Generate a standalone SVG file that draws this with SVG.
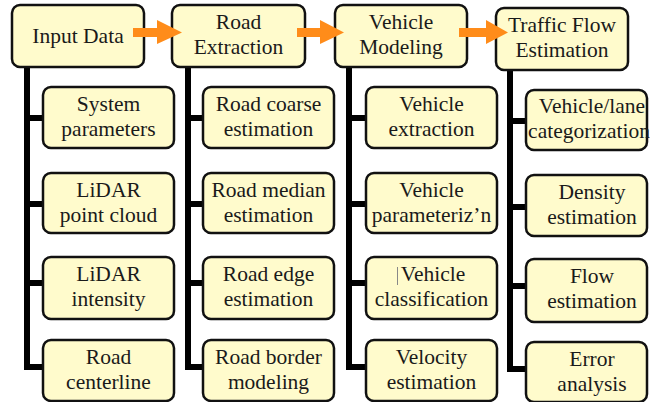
<svg xmlns="http://www.w3.org/2000/svg" width="650" height="402" viewBox="0 0 650 402">
  <style>
    .box { fill: #FFFBCC; stroke: #111; stroke-width: 2.5; }
    .trunk { stroke: #000; stroke-width: 6; fill: none; }
    .flow { fill: #FF8C1A; }
  </style>
  <rect width="650" height="402" fill="#fff"/>

  <!-- tree connectors: trunks and branches -->
  <g id="connectors">
    <path class="trunk" d="M27,67 V370 M27,118 H45 M27,204 H45 M27,283 H45 M27,367 H45"/>
    <path class="trunk" d="M188,67 V370 M188,118 H205 M188,204 H205 M188,283 H205 M188,367 H205"/>
    <path class="trunk" d="M349,67 V370 M349,118 H368 M349,204 H368 M349,283 H368 M349,367 H368"/>
    <path class="trunk" d="M510,70 V372 M510,121 H528 M510,207 H528 M510,286 H528 M510,369 H528"/>
  </g>

  <g font-family="Liberation Serif, Times New Roman, DejaVu Serif, serif" font-size="21.5" fill="#1a1a1a" text-anchor="middle">
  <!-- stage nodes -->
  <g id="input-data">
    <rect class="box" x="12" y="5" width="132" height="62" rx="8"/>
    <text x="78" y="43">Input Data</text>
  </g>
  <g id="road-extraction">
    <rect class="box" x="172" y="5" width="133" height="62" rx="8"/>
    <text x="238.5" y="29">Road</text>
    <text x="238.5" y="54">Extraction</text>
  </g>
  <g id="vehicle-modeling">
    <rect class="box" x="335" y="5" width="132" height="62" rx="8"/>
    <text x="401" y="29">Vehicle</text>
    <text x="401" y="54">Modeling</text>
  </g>
  <g id="traffic-flow">
    <rect class="box" x="496" y="8" width="132" height="62" rx="8"/>
    <text x="562" y="32">Traffic Flow</text>
    <text x="562" y="57">Estimation</text>
  </g>

  <!-- Input Data children -->
  <g id="system-parameters">
    <rect class="box" x="43" y="87" width="131" height="61" rx="8"/>
    <text x="108.5" y="111">System</text>
    <text x="108.5" y="136">parameters</text>
  </g>
  <g id="lidar-point-cloud">
    <rect class="box" x="43" y="173" width="131" height="60" rx="8"/>
    <text x="108.5" y="197">LiDAR</text>
    <text x="108.5" y="222">point cloud</text>
  </g>
  <g id="lidar-intensity">
    <rect class="box" x="43" y="257" width="131" height="62" rx="8"/>
    <text x="108.5" y="281">LiDAR</text>
    <text x="108.5" y="306">intensity</text>
  </g>
  <g id="road-centerline">
    <rect class="box" x="43" y="340" width="131" height="61" rx="8"/>
    <text x="108.5" y="364">Road</text>
    <text x="108.5" y="389">centerline</text>
  </g>

  <!-- Road Extraction children -->
  <g id="road-coarse">
    <rect class="box" x="203" y="87" width="131" height="61" rx="8"/>
    <text x="268.5" y="111">Road coarse</text>
    <text x="268.5" y="136">estimation</text>
  </g>
  <g id="road-median">
    <rect class="box" x="203" y="173" width="131" height="60" rx="8"/>
    <text x="268.5" y="197">Road median</text>
    <text x="268.5" y="222">estimation</text>
  </g>
  <g id="road-edge">
    <rect class="box" x="203" y="257" width="131" height="62" rx="8"/>
    <text x="268.5" y="281">Road edge</text>
    <text x="268.5" y="306">estimation</text>
  </g>
  <g id="road-border">
    <rect class="box" x="203" y="340" width="131" height="61" rx="8"/>
    <text x="268.5" y="364">Road border</text>
    <text x="268.5" y="389">modeling</text>
  </g>

  <!-- Vehicle Modeling children -->
  <g id="vehicle-extraction">
    <rect class="box" x="366" y="87" width="131" height="61" rx="8"/>
    <text x="431.5" y="111">Vehicle</text>
    <text x="431.5" y="136">extraction</text>
  </g>
  <g id="vehicle-parameterization">
    <rect class="box" x="366" y="173" width="131" height="60" rx="8"/>
    <text x="431.5" y="197">Vehicle</text>
    <text x="431.5" y="222">parameteriz’n</text>
  </g>
  <g id="vehicle-classification">
    <rect class="box" x="366" y="257" width="131" height="62" rx="8"/>
    <line x1="397.5" y1="267" x2="397.5" y2="285" stroke="#888" stroke-width="1"/>
    <text x="433" y="281">Vehicle</text>
    <text x="431.5" y="306">classification</text>
  </g>
  <g id="velocity-estimation">
    <rect class="box" x="366" y="340" width="131" height="61" rx="8"/>
    <text x="431.5" y="364">Velocity</text>
    <text x="431.5" y="389">estimation</text>
  </g>

  <!-- Traffic Flow Estimation children -->
  <g id="vehicle-lane">
    <rect class="box" x="526" y="90" width="121" height="60" rx="8"/>
    <text x="592" y="113">Vehicle/lane</text>
    <text x="589" y="138">categorization</text>
  </g>
  <g id="density-estimation">
    <rect class="box" x="526" y="175" width="121" height="61" rx="8"/>
    <text x="592" y="199">Density</text>
    <text x="592" y="224">estimation</text>
  </g>
  <g id="flow-estimation">
    <rect class="box" x="526" y="259" width="121" height="63" rx="8"/>
    <text x="592" y="283">Flow</text>
    <text x="592" y="308">estimation</text>
  </g>
  <g id="error-analysis">
    <rect class="box" x="526" y="342" width="121" height="60" rx="8"/>
    <text x="592" y="366">Error</text>
    <text x="592" y="391">analysis</text>
  </g>
  </g>

  <!-- flow arrows between stages, drawn over the stage boxes -->
  <g id="flow-arrows">
    <path class="flow" d="M133,28 H157 V20 L182,32.5 L157,44 V37 H133 Z"/>
    <path class="flow" d="M297,28 H320 V20 L344,32.5 L320,44 V37 H297 Z"/>
    <path class="flow" d="M459,28 H486 V20 L508,32.5 L486,44 V37 H459 Z"/>
  </g>
</svg>
